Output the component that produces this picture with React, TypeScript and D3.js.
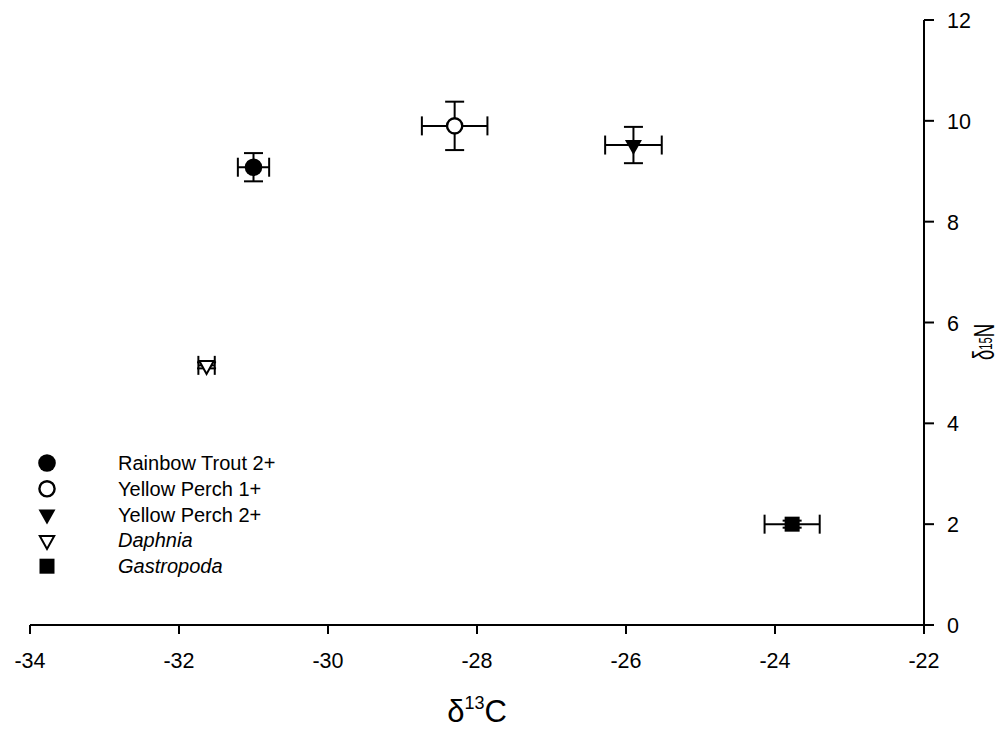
import React from 'react'
import * as d3 from 'd3'

// group names, in legend order
const groups = ['Rainbow Trout 2+', 'Yellow Perch 1+', 'Yellow Perch 2+', 'Daphnia', 'Gastropoda']
const italicGroups = ['Daphnia', 'Gastropoda']
const markerKinds = ['circleFilled', 'circleOpen', 'triDownFilled', 'triDownOpen', 'squareFilled']

// d13C mean and error
const carbon = [-31.0, -28.3, -25.9, -31.63, -23.77]
const carbonErr = [0.21, 0.44, 0.38, 0.11, 0.37]
// d15N mean and error
const nitrogen = [9.08, 9.9, 9.52, 5.15, 2.0]
const nitrogenErr = [0.28, 0.48, 0.36, 0.06, 0.07]

const xTicks = [-34, -32, -30, -28, -26, -24, -22]
const yTicks = [0, 2, 4, 6, 8, 10, 12]

const W = 1006
const H = 731
const font = '"Liberation Sans", Arial, Helvetica, sans-serif'

function Marker({ kind, x, y }: { kind: string; x: number; y: number }) {
  const t = `translate(${x},${y})`
  if (kind === 'circleFilled') return <circle cx={x} cy={y} r={8.8} fill="#000" />
  if (kind === 'circleOpen') return <circle cx={x} cy={y} r={7.6} fill="#fff" stroke="#000" strokeWidth={2.4} />
  const tri = 'M-8.5,-5L8.5,-5L0,10Z'
  if (kind === 'triDownFilled') return <path transform={t} d={tri} fill="#000" />
  if (kind === 'triDownOpen') return <path transform={t} d="M-7.2,-4.3L7.2,-4.3L0,8.6Z" fill="#fff" stroke="#000" strokeWidth={2} />
  return <rect x={x - 7.5} y={y - 7.5} width={15} height={15} fill="#000" />
}

export default function App() {
  const x = d3.scaleLinear().domain([-34, -22]).range([30, 924])
  const y = d3.scaleLinear().domain([0, 12]).range([625, 20])
  const cap = 9.5

  return (
    <svg width={W} height={H} style={{ position: 'absolute', left: 0, top: 0, background: '#fff' }} fontFamily={font}>
      {/* x axis */}
      <line x1={x(-34)} x2={x(-22)} y1={y(0)} y2={y(0)} stroke="#000" strokeWidth={2} />
      {xTicks.map(t => (
        <g key={t}>
          <line x1={x(t)} x2={x(t)} y1={y(0)} y2={y(0) + 9} stroke="#000" strokeWidth={2} />
          <text x={x(t)} y={y(0) + 43} textAnchor="middle" fontSize={21.5}>{t}</text>
        </g>
      ))}
      {/* y axis on the right */}
      <line x1={x(-22)} x2={x(-22)} y1={y(0)} y2={y(12)} stroke="#000" strokeWidth={2} />
      {yTicks.map(t => (
        <g key={t}>
          <line x1={x(-22)} x2={x(-22) + 10} y1={y(t)} y2={y(t)} stroke="#000" strokeWidth={2} />
          <text x={x(-22) + 23} y={y(t) + 8} fontSize={21.5}>{t}</text>
        </g>
      ))}

      {/* axis titles */}
      <text x={477} y={722} textAnchor="middle" fontSize={31}>
        δ<tspan fontSize={18} dy={-13}>13</tspan><tspan dy={13}>C</tspan>
      </text>
      <text transform="translate(994,342) rotate(-90) scale(0.62,1)" textAnchor="middle" fontSize={30}>
        δ<tspan fontSize={18} dy={-2}>15</tspan><tspan dy={2}>N</tspan>
      </text>

      {/* error bars */}
      {groups.map((g, i) => {
        const cx = x(carbon[i])
        const cy = y(nitrogen[i])
        const x0 = x(carbon[i] - carbonErr[i])
        const x1 = x(carbon[i] + carbonErr[i])
        const y0 = y(nitrogen[i] - nitrogenErr[i])
        const y1 = y(nitrogen[i] + nitrogenErr[i])
        return (
          <g key={g} stroke="#000" strokeWidth={2}>
            <line x1={x0} x2={x1} y1={cy} y2={cy} />
            <line x1={x0} x2={x0} y1={cy - cap} y2={cy + cap} />
            <line x1={x1} x2={x1} y1={cy - cap} y2={cy + cap} />
            <line x1={cx} x2={cx} y1={y0} y2={y1} />
            <line x1={cx - cap} x2={cx + cap} y1={y0} y2={y0} />
            <line x1={cx - cap} x2={cx + cap} y1={y1} y2={y1} />
          </g>
        )
      })}

      {/* markers */}
      {groups.map((g, i) => (
        <Marker key={g} kind={markerKinds[i]} x={x(carbon[i])} y={y(nitrogen[i])} />
      ))}

      {/* legend */}
      {groups.map((g, i) => {
        const ly = 463 + i * 25.8
        return (
          <g key={g}>
            <Marker kind={markerKinds[i]} x={47} y={ly} />
            <text x={118} y={ly + 7} fontSize={20} fontStyle={italicGroups.includes(g) ? 'italic' : 'normal'}>{g}</text>
          </g>
        )
      })}
    </svg>
  )
}
